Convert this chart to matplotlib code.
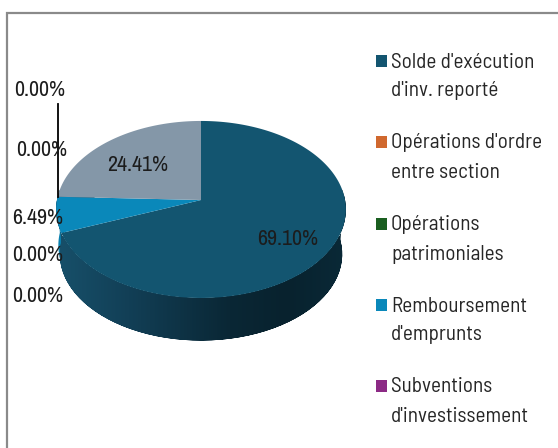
import numpy as np
import matplotlib
matplotlib.use('Agg')
import matplotlib.pyplot as plt
from matplotlib.patches import Polygon, Rectangle
from matplotlib.colors import LinearSegmentedColormap

# slices clockwise from 12 o'clock
values = [69.10, 0.00, 0.00, 6.49, 0.00, 0.00, 24.41]
value_labels = ['69.10%', '0.00%', '0.00%', '6.49%', '0.00%', '0.00%', '24.41%']
slice_colors = ['#135570', '#d0682e', '#1a5e20', '#0a88ba', '#8c2a85', '#555555', '#8497a8']
label_pos = [(287, 239), (37, 296), (37, 255), (37, 218), (41, 150), (39, 90), (137, 165)]

legend_labels = [
    ("Solde d'exécution", "d'inv. reporté"),
    ("Opérations d'ordre", "entre section"),
    ("Opérations", "patrimoniales"),
    ("Remboursement", "d'emprunts"),
    ("Subventions", "d'investissement"),
]
legend_y = [62, 143, 225, 306, 387]

label_font = ['Archivo Narrow', 'Liberation Sans', 'DejaVu Sans']
legend_font = ['Barlow Semi Condensed', 'Roboto', 'DejaVu Sans']

fig = plt.figure(figsize=(5.58, 4.48), dpi=100)
ax = fig.add_axes([0, 0, 1, 1])
ax.set_xlim(0, 558)
ax.set_ylim(448, 0)
ax.axis('off')

# pie geometry in pixels
cx, cy = 201, 200
R, A, k = 144, 87.5, 0.107
depth = 45


def rim(a, scale=1.0, shift=0):
    # perspective view of the disc, a in degrees
    u = np.cos(np.radians(a))
    v = np.sin(np.radians(a))
    w = 1 + k * v
    return np.column_stack([cx + scale * R * u / w, cy + shift - scale * A * v / w])


fracs = np.array(values) / sum(values) * 360
ends = 90 - np.cumsum(fracs)
starts = ends + fracs

# border
ax.plot([6.5, 6.5, 558], [448, 13, 13], color='#8a8a8a', lw=1.6, solid_joinstyle='miter')

# blue side sliver
a_blue = np.linspace(starts[3], ends[3], 30)
ax.add_patch(Polygon(np.vstack([rim(a_blue), rim(a_blue[::-1], 0.985, 36)]),
                     fc='#0a80ae', ec='none'))

# dark side with gradient, visible from the blue edge around to the right
a_side = np.linspace(ends[3], 360 + 3, 160)
outline = np.vstack([rim(a_side), rim(a_side[::-1], 0.975, depth)])
side_patch = Polygon(outline, fc='none', ec='none')
ax.add_patch(side_patch)
cmap = LinearSegmentedColormap.from_list('side', [
    (0.0, '#17506a'), (0.25, '#123f56'), (0.6, '#0a2735'), (0.8, '#08222e'), (1.0, '#0a2937')])
im = ax.imshow(np.linspace(0, 1, 290).reshape(1, -1), cmap=cmap, aspect='auto',
               extent=[56, 346, 348, 190], zorder=1)
im.set_clip_path(side_patch)
ax.set_xlim(0, 558)
ax.set_ylim(448, 0)

# top faces
for s, e, v, c in zip(starts, ends, values, slice_colors):
    if v == 0:
        continue
    a = np.linspace(s, e, 200)
    pts = np.vstack([[cx, cy], rim(a)])
    ax.add_patch(Polygon(pts, fc=c, ec='none', zorder=2))

# leader line above the gray slice
ax.plot([58, 58], [104, 197], color='black', lw=1.3, zorder=3)

for (x, y), t in zip(label_pos, value_labels):
    ax.text(x + 1, y, t, fontsize=15.8, color='#1c1c1c', ha='center', va='center',
            family=label_font, zorder=4)

# legend
for y, (l1, l2), c in zip(legend_y, legend_labels, slice_colors[:5]):
    ax.add_patch(Rectangle((376, y - 7), 10.5, 12, fc=c, ec='none'))
    ax.text(391, y, l1, fontsize=15.2, color='#262626', ha='left', va='center', family=legend_font)
    ax.text(391, y + 29, l2, fontsize=15.2, color='#262626', ha='left', va='center', family=legend_font)

fig.savefig('out.png', dpi=100, facecolor='white')
